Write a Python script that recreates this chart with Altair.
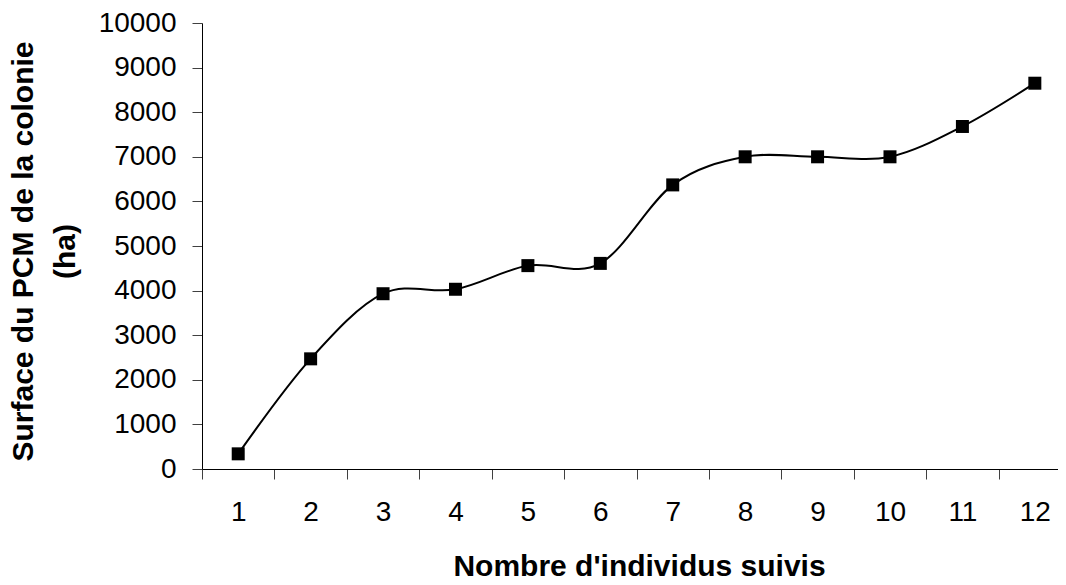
import altair as alt
import pandas as pd

# ---- data ----
individus = [1, 2, 3, 4, 5, 6, 7, 8, 9, 10, 11, 12]
surface = [340, 2470, 3930, 4030, 4560, 4610, 6370, 7000, 7000, 7000, 7680, 8650]
y_ticks = [0, 1000, 2000, 3000, 4000, 5000, 6000, 7000, 8000, 9000, 10000]
x_band_edges = [0.5, 1.5, 2.5, 3.5, 4.5, 5.5, 6.5, 7.5, 8.5, 9.5, 10.5, 11.5]
x_title = "Nombre d'individus suivis"
y_title = ["Surface du PCM de la colonie", "(ha)"]

df = pd.DataFrame({"n": individus, "s": surface})

FONT = "Liberation Sans"
PLOT_W = 856
BAND_PX = 72.42
x_max = 0.5 + PLOT_W / BAND_PX

x_enc = alt.X(
    "n:Q",
    scale=alt.Scale(domain=[0.5, x_max], nice=False, zero=False),
    axis=alt.Axis(
        values=x_band_edges,
        labelExpr="format(datum.value + 0.5, 'd')",
        labelOffset=BAND_PX / 2,
        labelFlush=False,
        labelOverlap=False,
        labelBound=False,
        labelFontSize=28,
        labelPadding=19,
        tickSize=10,
        title=x_title,
        titleFontSize=30,
        titleFontWeight="bold",
        titleX=437,
        titleY=106,
        titleAlign="center",
        titleBaseline="alphabetic",
        grid=False,
    ),
)

y_enc = alt.Y(
    "s:Q",
    scale=alt.Scale(domain=[0, 10000], nice=False),
    axis=alt.Axis(
        values=y_ticks,
        format="d",
        labelFlush=False,
        labelOverlap=False,
        labelFontSize=28,
        labelPadding=16,
        tickSize=10,
        title=y_title,
        titleFontSize=30,
        titleFontWeight="bold",
        titleX=-170,
        titleY=228,
        titleAngle=270,
        titleAlign="center",
        titleBaseline="alphabetic",
        titleLineHeight=42,
        grid=False,
    ),
)

base = alt.Chart(df).encode(x=x_enc, y=y_enc)

line = base.mark_line(interpolate="cardinal", tension=0, color="black", strokeWidth=2)
points = base.mark_point(shape="square", filled=True, size=169, color="black", opacity=1)

chart = (
    alt.layer(line, points)
    .properties(
        width=PLOT_W,
        height=446,
        autosize=alt.AutoSizeParams(type="none"),
        padding={"left": 194, "top": 15, "right": 0, "bottom": 108},
        background="white",
    )
    .configure_view(stroke=None)
    .configure_axis(
        labelFont=FONT,
        titleFont=FONT,
        labelColor="black",
        titleColor="black",
        domainColor="black",
        domainWidth=1,
        tickColor="#404040",
        tickWidth=1,
    )
)

chart.save("out.html", embed_options={"renderer": "svg", "actions": False})
